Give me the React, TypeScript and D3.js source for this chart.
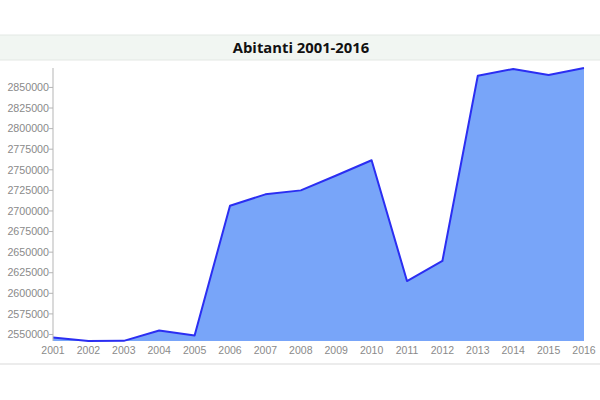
import React from "react";
import * as d3 from "d3";

const years = [2001, 2002, 2003, 2004, 2005, 2006, 2007, 2008, 2009, 2010, 2011, 2012, 2013, 2014, 2015, 2016];
const population = [2546350, 2542100, 2542300, 2554900, 2548800, 2706300, 2720200, 2725000, 2743050, 2761600, 2614900, 2639300, 2864250, 2872400, 2865100, 2873600];
const yTicks = [2550000, 2575000, 2600000, 2625000, 2650000, 2675000, 2700000, 2725000, 2750000, 2775000, 2800000, 2825000, 2850000];
const title = "Abitanti 2001-2016";

export default function App() {
  const W = 600, H = 400;
  const left = 53, right = 584, top = 68, bottom = 341;
  const x = d3.scaleLinear().domain([years[0], years[years.length - 1]]).range([left, right]);
  const ext = d3.extent(population) as [number, number];
  const y = d3.scaleLinear().domain(ext).range([bottom, top]);
  const data = years.map((yr, i) => ({ yr, v: population[i] }));
  const area = d3.area<{ yr: number; v: number }>().x(d => x(d.yr)).y0(bottom).y1(d => y(d.v));
  const line = d3.line<{ yr: number; v: number }>().x(d => x(d.yr)).y(d => y(d.v));
  const font = "'Liberation Sans', Arial, sans-serif";
  return (
    <svg width={W} height={H} style={{ position: "absolute", left: 0, top: 0, background: "#fff" }}>
      <rect x={0} y={35} width={W} height={25} fill="#f1f6f2" />
      <line x1={0} x2={W} y1={35} y2={35} stroke="#e3e8e4" />
      <line x1={0} x2={W} y1={60} y2={60} stroke="#e3e8e4" />
      <text x={301} y={52.5} textAnchor="middle" fontFamily="'Open Sans', sans-serif" fontWeight={700} fontSize={14.8} fill="#111">{title}</text>
      <path d={area(data) || ""} fill="#78a5f9" />
      <path d={line(data) || ""} fill="none" stroke="#2b2ef2" strokeWidth={2} strokeLinejoin="round" />
      <line x1={left} x2={left} y1={top} y2={bottom} stroke="#b5b5b5" />
      {yTicks.map(t => (
        <g key={t}>
          <line x1={left - 4} x2={left} y1={y(t)} y2={y(t)} stroke="#b5b5b5" />
          <text x={left - 4} y={y(t)} dy="0.35em" textAnchor="end" fontFamily={font} fontSize={10.7} fill="#8a8a8a">{t}</text>
        </g>
      ))}
      {years.map(yr => (
        <text key={yr} x={x(yr)} y={354} textAnchor="middle" fontFamily={font} fontSize={10.5} fill="#8a8a8a">{yr}</text>
      ))}
      <line x1={0} x2={W} y1={364} y2={364} stroke="#e6e6e6" strokeWidth={1.5} />
    </svg>
  );
}
